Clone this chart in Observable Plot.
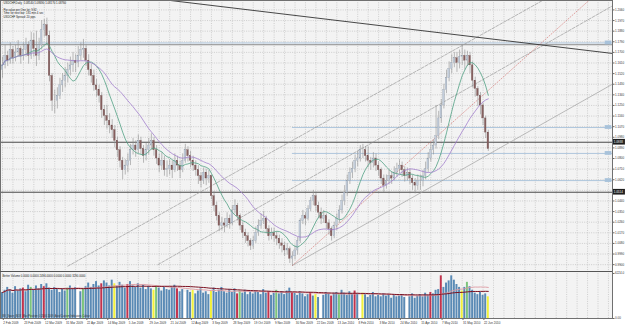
<!DOCTYPE html>
<html><head><meta charset="utf-8">
<script src="https://cdn.jsdelivr.net/npm/d3@7"></script>
<script src="https://cdn.jsdelivr.net/npm/@observablehq/plot@0.6"></script>
<style>
body{margin:0;background:#fff;}
#chart{width:625px;height:326px;overflow:hidden;}
#chart svg{display:block;}
</style></head><body><div id="chart"></div>
<script>
// ---- data (2-day bars, bar index = 2*k) ----
const firstOpen = 1.155;
const closes = [
1.159,1.167,1.163,1.172,1.165,1.170,1.173,1.167,
1.172,1.176,1.167,1.180,1.173,1.167,1.176,1.189,
1.193,1.184,1.150,1.129,1.129,1.133,1.142,1.146,
1.150,1.155,1.159,1.163,1.161,1.167,1.172,1.173,
1.163,1.155,1.150,1.142,1.138,1.133,1.121,1.116,
1.112,1.108,1.104,1.095,1.087,1.078,1.070,1.074,
1.078,1.087,1.091,1.087,1.095,1.088,1.082,1.087,
1.091,1.095,1.087,1.080,1.074,1.078,1.070,1.071,
1.074,1.070,1.078,1.074,1.070,1.078,1.087,1.082,
1.078,1.074,1.070,1.065,1.061,1.068,1.063,1.065,
1.048,1.040,1.031,1.023,1.025,1.023,1.029,1.025,
1.036,1.040,1.031,1.023,1.017,1.014,1.010,1.006,
1.010,1.017,1.023,1.027,1.029,1.020,1.014,1.017,
1.014,1.012,1.008,1.006,1.002,1.003,0.995,0.997,
1.002,1.010,1.027,1.031,1.029,1.037,1.044,1.048,
1.040,1.034,1.029,1.031,1.025,1.020,1.014,1.023,
1.029,1.036,1.044,1.051,1.061,1.068,1.071,1.078,
1.080,1.087,1.087,1.082,1.078,1.076,1.080,1.074,
1.070,1.063,1.057,1.061,1.065,1.063,1.068,1.071,
1.074,1.070,1.065,1.068,1.063,1.059,1.057,1.061,
1.061,1.065,1.071,1.080,1.087,1.091,1.099,1.114,
1.125,1.138,1.148,1.156,1.161,1.165,1.161,1.166,
1.167,1.163,1.167,1.159,1.146,1.139,1.133,1.125,
1.114,1.102,1.088];
const highs = [
1.166,1.176,1.171,1.178,1.175,1.176,1.180,1.175,
1.178,1.182,1.179,1.187,1.186,1.188,1.182,1.197,
1.198,1.199,1.188,1.152,1.138,1.140,1.148,1.152,
1.157,1.161,1.166,1.170,1.168,1.175,1.178,1.181,
1.176,1.168,1.160,1.155,1.147,1.142,1.136,1.125,
1.125,1.118,1.113,1.108,1.098,1.090,1.081,1.079,
1.084,1.092,1.097,1.095,1.100,1.098,1.091,1.093,
1.097,1.101,1.098,1.091,1.084,1.085,1.082,1.078,
1.079,1.078,1.084,1.082,1.078,1.084,1.092,1.090,
1.086,1.082,1.078,1.074,1.068,1.072,1.071,1.070,
1.066,1.052,1.043,1.034,1.030,1.029,1.034,1.032,
1.040,1.045,1.042,1.033,1.026,1.020,1.017,1.012,
1.014,1.022,1.028,1.033,1.035,1.031,1.023,1.021,
1.021,1.018,1.015,1.012,1.009,1.008,1.005,1.001,
1.006,1.013,1.029,1.036,1.034,1.040,1.047,1.053,
1.050,1.043,1.038,1.036,1.033,1.028,1.022,1.026,
1.033,1.040,1.049,1.057,1.066,1.072,1.077,1.083,
1.086,1.091,1.092,1.090,1.090,1.081,1.085,1.084,
1.077,1.072,1.066,1.066,1.070,1.069,1.073,1.076,
1.079,1.077,1.073,1.072,1.071,1.066,1.063,1.066,
1.066,1.070,1.077,1.085,1.093,1.096,1.125,1.120,
1.130,1.143,1.155,1.162,1.168,1.170,1.170,1.172,
1.176,1.172,1.171,1.170,1.162,1.149,1.141,1.136,
1.127,1.116,1.104];
const lows = [
1.148,1.156,1.158,1.160,1.160,1.162,1.166,1.160,
1.163,1.166,1.160,1.164,1.166,1.158,1.163,1.172,
1.183,1.176,1.145,1.120,1.118,1.122,1.130,1.136,
1.140,1.144,1.150,1.153,1.153,1.157,1.163,1.165,
1.158,1.150,1.144,1.137,1.132,1.127,1.114,1.108,
1.105,1.101,1.097,1.089,1.081,1.072,1.062,1.066,
1.068,1.074,1.083,1.081,1.084,1.083,1.076,1.078,
1.083,1.087,1.082,1.075,1.068,1.070,1.065,1.064,
1.066,1.063,1.068,1.069,1.063,1.068,1.076,1.077,
1.072,1.069,1.065,1.058,1.055,1.058,1.057,1.059,
1.045,1.035,1.027,1.018,1.019,1.017,1.021,1.020,
1.023,1.033,1.027,1.019,1.012,1.008,1.005,1.002,
1.003,1.008,1.014,1.020,1.024,1.016,1.010,1.011,
1.009,1.006,1.003,1.000,0.997,0.998,0.991,0.989,
0.994,0.998,1.008,1.024,1.023,1.027,1.035,1.040,
1.035,1.029,1.024,1.025,1.020,1.015,1.010,1.012,
1.019,1.025,1.033,1.040,1.048,1.058,1.063,1.068,
1.073,1.077,1.080,1.077,1.072,1.070,1.072,1.069,
1.065,1.058,1.051,1.054,1.058,1.058,1.061,1.064,
1.067,1.064,1.060,1.061,1.058,1.053,1.050,1.053,
1.053,1.056,1.062,1.068,1.077,1.083,1.088,1.096,
1.110,1.122,1.135,1.145,1.152,1.157,1.153,1.156,
1.159,1.155,1.158,1.152,1.140,1.132,1.124,1.117,
1.108,1.097,1.086];
const volumes = [
3600,3900,4300,4000,3500,4400,3800,4100,
4200,3700,4600,4300,3900,4500,4100,4700,
4400,4800,4200,3900,4300,4000,3600,4100,
3800,4200,4500,4000,4300,4600,3700,4100,
4400,4900,4300,4700,5100,4500,4800,5200,
4900,4500,5300,4800,4400,5000,4600,4200,
4700,5100,4500,4300,4800,4200,4600,4000,
4400,4100,3900,4500,4200,3800,4300,4000,
3900,4300,4600,4100,3700,4000,3600,3900,
3600,3900,3400,3800,4100,3500,3700,3300,
3800,4200,3600,3900,4300,3700,3500,4000,
3600,4100,3400,3800,3500,3900,3300,3700,
3400,3800,3600,3300,4000,3500,3700,3200,
3500,3900,3400,3700,3300,3800,4200,3600,
3500,3200,3700,3400,3000,3300,3600,3100,
3300,2900,3500,3200,3600,3400,3100,3500,
3600,3300,3900,3500,3200,3700,3400,3800,
3400,3100,3500,3300,2900,3200,3600,3000,
3200,3000,3400,3100,3300,2800,3200,3000,
3100,3300,2900,3200,3000,3400,2800,3100,
3300,3000,3500,3200,3600,3400,3900,4000,
5900,4300,4900,5200,5900,5300,4700,4300,
3800,4300,5000,4400,3900,3500,3300,3600,
3200,3400,3000];
const redBars = [8,16,38,48,67,90,102,111,118,126,135,164,168];
const greenBars = [11,25,31,59,91,105,129,178];
const yellowBars = [43,58,73,80,120,138,176,186];
const whiteBars = [29,70,122,137,155];

const dateLabels = ["2 Feb 2009","23 Feb 2009","12 Mar 2009","31 Mar 2009","22 Apr 2009","14 May 2009","5 Jun 2009","29 Jun 2009","21 Jul 2009","12 Aug 2009","3 Sep 2009","28 Sep 2009","19 Oct 2009","9 Nov 2009","30 Nov 2009","22 Dec 2009","13 Jan 2010","8 Feb 2010","3 Mar 2010","24 Mar 2010","15 Apr 2010","7 May 2010","31 May 2010","22 Jun 2010"];
const priceTicks = [1.2060,1.1970,1.1880,1.1790,1.1700,1.1610,1.1520,1.1430,1.1340,1.1250,1.1160,1.1070,1.0980,1.0890,1.0800,1.0710,1.0620,1.0530,1.0440,1.0350,1.0260,1.0170,1.0080,0.9990,0.9900];
const volTicks = [0, 6224];
const volTickLabels = ["0.00", "6224.0"];

// horizontal levels and trend lines (bar index, price)
const greyLevels = [1.1765];
const darkLevels = [1.0938, 1.0514];
const blueLevels = [1.1780, 1.1063, 1.0843, 1.0613];
const blueLevelStart = [-2, 222, 222, 222];
const upperChannel = [[50, 0.9887], [414, 1.2143]];
const midChannel = [[119, 0.9900], [467, 1.2094]];
const lowerChannel = [[222, 0.9893], [467, 1.1430]];
const redTrend = [[222, 0.9893], [449, 1.2140]];
const blackTrend = [[128.6, 1.2140], [467, 1.1691]];

const headerLines = ["USDCHF,Daily  1.08540 1.08690 1.08170 1.08760", "Pip value per One lot: 9.92", "Time for next bar: 181 min 4 sec", "USDCHF Spread: 20 pips"];
const volHeader = "Better Volume 0.0000 0.0000 2496.0000 0.0000 0.0000 3290.0000";
const volFooter = "BV_Spare_BOX  Max Position: 0 2000 2009  Auto/Custom Indicators Colour";

// ---- build ----
const candles = closes.map((c, k) => ({bar: 2*k, open: k ? closes[k-1] : firstOpen, close: c, high: highs[k], low: lows[k]}));
const colorOf = k => redBars.includes(k) ? "#c2334d" : greenBars.includes(k) ? "#7cc47c" : yellowBars.includes(k) ? "#f2f23a" : whiteBars.includes(k) ? "#ffffff" : "#5a8ab5";
const volData = volumes.map((v, k) => ({bar: 2*k, v, color: colorOf(k)}));
const xDomain = [-1.53, 467.1];
const gridBars = d3.range(0, 467, 8);
const dateBars = dateLabels.map((d, i) => i*16);
const labelByBar = new Map(dateBars.map((b, i) => [b, dateLabels[i]]));
const seg = (pts) => pts.map(([bar, price]) => ({bar, price}));
// tick labels hidden under the dark level boxes (as on the reference, where the boxes cover them)
const shownTicks = priceTicks.filter(t => darkLevels.every(l => Math.abs(t - l) > 0.004));
const FONT = "Liberation Sans, Arial, sans-serif";

const main = Plot.plot({
  width: 625, height: 271, marginTop: 0, marginBottom: 0, marginLeft: 0, marginRight: 13,
  style: {background: "#fff", fontFamily: FONT, color: "#333"},
  x: {domain: xDomain, axis: null},
  y: {domain: [0.98419, 1.2140], axis: null},
  color: {type: "identity"},
  marks: [
    Plot.frame({fill: "#f3f3f3", stroke: null}),
    Plot.gridY(priceTicks, {stroke: "#b5b5b5", strokeOpacity: 1, strokeDasharray: "1,1.3", strokeWidth: 0.6}),
    Plot.gridX(gridBars, {stroke: "#b5b5b5", strokeOpacity: 1, strokeDasharray: "1,1.3", strokeWidth: 0.6}),
    Plot.ruleY(blueLevels, {x1: (d, i) => blueLevelStart[i], x2: 467.1, stroke: "#a8c2da", strokeWidth: 0.9}),
    Plot.ruleY(greyLevels, {x1: -2, x2: 467.1, stroke: "#8c8c8c", strokeWidth: 1}),
    Plot.ruleY(darkLevels, {x1: -2, x2: 467.1, stroke: "#4a4a4a", strokeWidth: 1}),
    Plot.line(seg(upperChannel), {x: "bar", y: "price", stroke: "#9a9a9a", strokeWidth: 0.7, strokeDasharray: "3,1.5", clip: true}),
    Plot.line(seg(midChannel), {x: "bar", y: "price", stroke: "#9a9a9a", strokeWidth: 0.7, strokeDasharray: "3,1.5", clip: true}),
    Plot.line(seg(lowerChannel), {x: "bar", y: "price", stroke: "#a0a0a0", strokeWidth: 0.7, clip: true}),
    Plot.line(seg(redTrend), {x: "bar", y: "price", stroke: "#d26a66", strokeWidth: 0.6, strokeDasharray: "1,1.8", clip: true}),
    Plot.line(seg(blackTrend), {x: "bar", y: "price", stroke: "#333", strokeWidth: 0.9, clip: true}),
    Plot.ruleX(candles, {x: "bar", y1: "low", y2: "high", stroke: "#8f8f8f", strokeWidth: 0.6}),
    Plot.rect(candles, {x1: d => d.bar - 0.6, x2: d => d.bar + 0.6, y1: "open", y2: "close",
      fill: d => d.close >= d.open ? "#c3cddb" : "#86605f", stroke: d => d.close >= d.open ? "#929eac" : "#735050", strokeWidth: 0.3}),
    Plot.lineY(candles, Plot.windowY({k: 10, anchor: "end", reduce: "mean"}, {x: "bar", y: "close", stroke: "#52a184", strokeWidth: 0.8})),
    Plot.lineY(candles, Plot.windowY({k: 25, anchor: "end", reduce: "mean"}, {x: "bar", y: "close", stroke: "#a27fcd", strokeWidth: 0.8})),
    Plot.ruleX([467.1], {stroke: "#555", strokeWidth: 1}),
    Plot.axisY(shownTicks, {anchor: "right", tickSize: 1.5, tickPadding: 1, tickFormat: d3.format(".4f"), fontSize: 3, stroke: "#666", label: null}),
    Plot.rect(blueLevels, {x1: 461.5, x2: 466.6, y1: d => d - 0.0016, y2: d => d + 0.0016, fill: "#a8c2da"}),
    Plot.rect(darkLevels, {x1: 467.4, x2: 477, y1: d => d - 0.0024, y2: d => d + 0.0024, fill: "#1e1e1e"}),
    Plot.text(darkLevels, {x: 468, y: d => d, text: d => d.toFixed(4), fill: "#fff", fontSize: 3, textAnchor: "start"}),
    ...headerLines.map((t, i) => Plot.text([t], {frameAnchor: "top-left", dx: 3, dy: [1.8, 8.6, 11.8, 15][i], text: d => d, fontSize: 2.8, fill: "#222", textAnchor: "start", lineAnchor: "top"})),
    Plot.frame({stroke: "#707070", strokeWidth: 1})
  ]
});

const vol = Plot.plot({
  width: 625, height: 55, marginTop: 0, marginBottom: 8, marginLeft: 0, marginRight: 13,
  style: {background: "#fff", fontFamily: FONT, color: "#333"},
  x: {domain: xDomain, axis: null},
  y: {domain: [0, 6500], axis: null},
  color: {type: "identity"},
  marks: [
    Plot.frame({fill: "#f3f3f3", stroke: null}),
    Plot.gridX(gridBars, {stroke: "#b5b5b5", strokeOpacity: 1, strokeDasharray: "1,1.3", strokeWidth: 0.6}),
    Plot.rect(volData, {x1: d => d.bar - 0.75, x2: d => d.bar + 0.75, y1: 0, y2: "v", fill: "color"}),
    Plot.lineY(volData, Plot.windowY({k: 20, anchor: "end", reduce: "mean"}, {x: "bar", y: "v", stroke: "#dd9aa2", strokeWidth: 0.9})),
    Plot.lineY(volData, Plot.windowY({k: 40, anchor: "end", reduce: "mean"}, {x: "bar", y: "v", stroke: "#7b1020", strokeWidth: 1})),
    Plot.ruleX([467.1], {stroke: "#555", strokeWidth: 1}),
    Plot.axisY(volTicks, {anchor: "right", tickSize: 1.5, tickPadding: 1, tickFormat: (d) => volTickLabels[volTicks.indexOf(d)], fontSize: 3, stroke: "#666", label: null}),
    Plot.axisX(dateBars, {anchor: "bottom", tickSize: 2, tickPadding: 1.5, tickFormat: d => labelByBar.get(d), textAnchor: "start", dx: 0.8, fontSize: 3, stroke: "#666", label: null}),
    Plot.text([volHeader], {frameAnchor: "top-left", dx: 2, dy: 3, text: d => d, fontSize: 2.8, fill: "#222", textAnchor: "start", lineAnchor: "top"}),
    Plot.text([volFooter], {frameAnchor: "bottom-left", dx: 2, dy: -2, text: d => d, fontSize: 2.6, fill: "#333", textAnchor: "start", lineAnchor: "bottom"}),
    Plot.frame({stroke: "#707070", strokeWidth: 1}),
    Plot.ruleY([6500], {x1: -2, x2: 467.1, stroke: "#555", strokeWidth: 1.2})
  ]
});

const el = document.getElementById("chart");
el.appendChild(main);
el.appendChild(vol);
</script>
</body></html>
